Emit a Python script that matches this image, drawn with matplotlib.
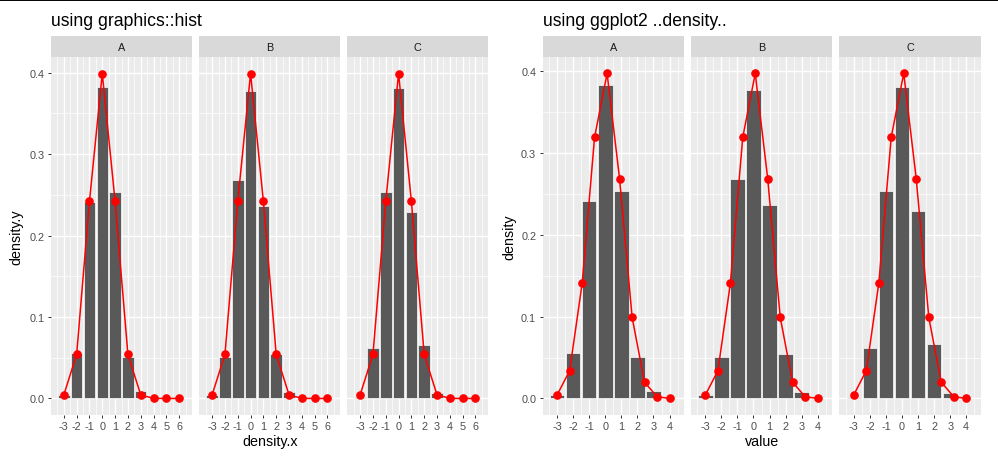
import numpy as np
import matplotlib
matplotlib.use("Agg")
import matplotlib.pyplot as plt
from matplotlib.lines import Line2D

plt.rcParams['font.family'] = ['Liberation Sans', 'DejaVu Sans']

# ---- data ----
panels = ['A', 'B', 'C']
bar_x = [-3, -2, -1, 0, 1, 2, 3]
bars_A = [0.0045, 0.056, 0.241, 0.383, 0.254, 0.051, 0.009]
bars_B = [0.004, 0.051, 0.268, 0.377, 0.236, 0.054, 0.008]
bars_C = [0.002, 0.062, 0.253, 0.381, 0.229, 0.066, 0.007]

# graphics::hist style density points (integer x)
hist_x = [-3, -2, -1, 0, 1, 2, 3, 4, 5, 6]
hist_y = [0.0044, 0.054, 0.242, 0.399, 0.242, 0.054, 0.0044, 0.0001, 0.0, 0.0]

# ggplot2 ..density.. points
dens_x = [-3.0, -2.22, -1.44, -0.67, 0.11, 0.89, 1.67, 2.44, 3.22, 4.0]
dens_y = [0.0044, 0.034, 0.141, 0.319, 0.397, 0.268, 0.099, 0.020, 0.0022, 0.0001]

left_ticks = [-3, -2, -1, 0, 1, 2, 3, 4, 5, 6]
right_ticks = [-3, -2, -1, 0, 1, 2, 3, 4]
y_ticks = [0.0, 0.1, 0.2, 0.3, 0.4]

W, H = 998, 464
fig = plt.figure(figsize=(W / 100, H / 100), dpi=100)

def px_axes(x0, x1, y0, y1):
    return fig.add_axes([x0 / W, 1 - y1 / H, (x1 - x0) / W, (y1 - y0) / H])

def draw_panel(x0, x1, label, bars, px, py, xlim, ylim, xticks, first, ylabfmt):
    ax = px_axes(x0, x1, 58.3, 415.7)
    ax.set_facecolor('#EBEBEB')
    for s in ax.spines.values():
        s.set_visible(False)
    ax.set_xlim(*xlim)
    ax.set_ylim(*ylim)
    ax.set_xticks(xticks)
    ax.set_xticks(np.arange(xticks[0] - 0.5, xticks[-1] + 1, 1.0), minor=True)
    ax.set_yticks(y_ticks)
    ax.set_yticks([0.05, 0.15, 0.25, 0.35], minor=True)
    ax.grid(which='major', color='white', linewidth=1.0)
    ax.grid(which='minor', color='white', linewidth=0.5)
    ax.set_axisbelow(True)
    ax.tick_params(which='major', length=2.2, width=0.7, color='#333333',
                   labelsize=7.8, labelcolor='#4D4D4D', pad=2.5)
    ax.tick_params(which='minor', length=0)
    ax.set_xticklabels([str(t) for t in xticks])
    if first:
        ax.set_yticklabels([ylabfmt.format(v) for v in y_ticks])
    else:
        ax.tick_params(axis='y', which='major', length=0, labelleft=False)
    ax.bar(bar_x, bars, width=0.9, color='#595959', edgecolor='white',
           linewidth=0.5, zorder=2)
    ax.plot(px, py, color='red', linewidth=1.1, zorder=3)
    ax.plot(px, py, 'o', color='red', markersize=5.2, zorder=4)

    sx = px_axes(x0, x1, 37.3, 58.3)
    sx.set_facecolor('#D9D9D9')
    for s in sx.spines.values():
        s.set_visible(False)
    sx.set_xticks([])
    sx.set_yticks([])
    sx.text(0.5, 0.5, label, ha='center', va='center', fontsize=7.8,
            color='#1A1A1A', transform=sx.transAxes)
    return ax

all_bars = [bars_A, bars_B, bars_C]
left_pos = [(51, 192), (199.3, 340.3), (347.3, 488.3)]
right_pos = [(542.7, 684), (691, 832), (839.3, 980.7)]

for i, lab in enumerate(panels):
    draw_panel(left_pos[i][0], left_pos[i][1], lab, all_bars[i], hist_x, hist_y,
               (-4, 7), (-0.01995, 0.41895), left_ticks, i == 0, '{:.1f}')
    draw_panel(right_pos[i][0], right_pos[i][1], lab, all_bars[i], dens_x, dens_y,
               (-3.9, 4.9), (-0.0198, 0.4167), right_ticks, i == 0, '{:.1f}')

# titles and axis labels
fig.text(51 / W, 1 - 26 / H, 'using graphics::hist', fontsize=12.7, color='black',
         ha='left', va='baseline')
fig.text(543 / W, 1 - 26 / H, 'using ggplot2 ..density..', fontsize=12.7, color='black',
         ha='left', va='baseline')
fig.text(269.7 / W, 1 - 442 / H, 'density.x', fontsize=10.3, ha='center', va='center')
fig.text(761.7 / W, 1 - 442 / H, 'value', fontsize=10.3, ha='center', va='center')
fig.text(16.5 / W, 1 - 237 / H, 'density.y', fontsize=10.3, ha='center', va='center',
         rotation=90)
fig.text(509 / W, 1 - 237 / H, 'density', fontsize=10.3, ha='center', va='center',
         rotation=90)

# thin black border line at the very top
fig.add_artist(Line2D([0, 1], [1 - 0.8 / H, 1 - 0.8 / H], color='black',
                      linewidth=1.4, transform=fig.transFigure))

fig.savefig('out.png', dpi=100, facecolor='white')
